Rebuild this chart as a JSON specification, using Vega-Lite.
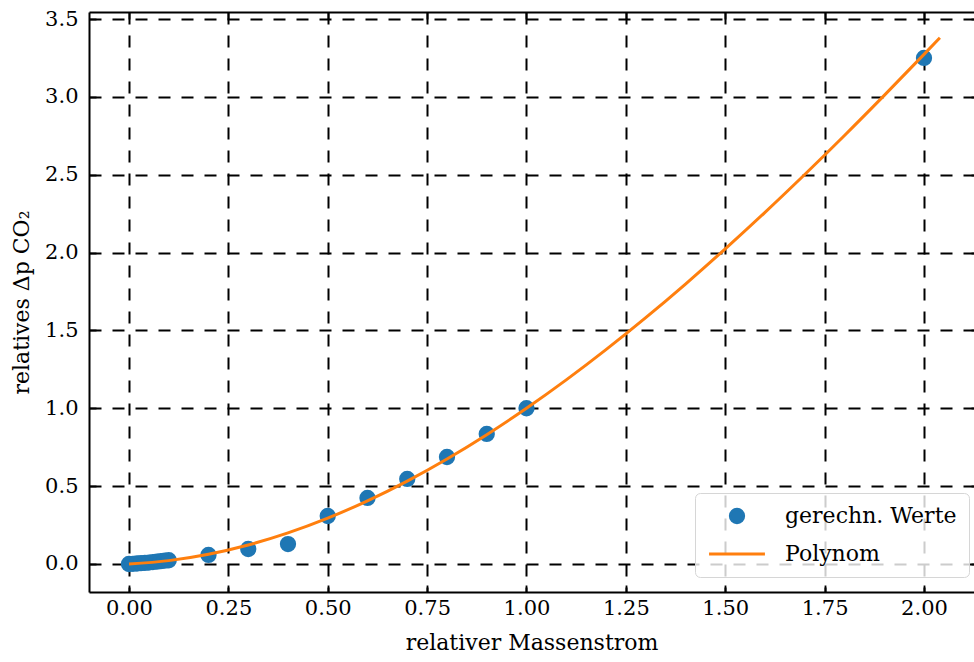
{
  "$schema": "https://vega.github.io/schema/vega-lite/v6.json",
  "width": 885,
  "height": 580,
  "autosize": {"type": "none"},
  "padding": {"left": 89, "top": 12, "right": 0, "bottom": 70},
  "background": "white",
  "config": {
    "view": {"stroke": null},
    "font": "DejaVu Serif",
    "axis": {
      "labelFont": "DejaVu Serif",
      "titleFont": "DejaVu Serif",
      "labelFontSize": 21,
      "titleFontSize": 22,
      "labelColor": "black",
      "titleColor": "black",
      "titleFontWeight": "normal",
      "domainColor": "black",
      "domainWidth": 2,
      "tickColor": "black",
      "tickWidth": 1.8,
      "tickSize": -7,
      "gridColor": "black",
      "gridWidth": 2,
      "gridOpacity": 1,
      "gridDash": [12, 11]
    },
    "legend": {
      "labelFont": "DejaVu Serif",
      "labelFontSize": 22,
      "labelColor": "black",
      "labelLimit": 0
    }
  },
  "datasets": {
    "werte": [
      {"m": 0.0, "dp": 0.0, "series": "gerechn. Werte"},
      {"m": 0.01, "dp": 0.001, "series": "gerechn. Werte"},
      {"m": 0.02, "dp": 0.003, "series": "gerechn. Werte"},
      {"m": 0.03, "dp": 0.005, "series": "gerechn. Werte"},
      {"m": 0.04, "dp": 0.007, "series": "gerechn. Werte"},
      {"m": 0.05, "dp": 0.009, "series": "gerechn. Werte"},
      {"m": 0.06, "dp": 0.012, "series": "gerechn. Werte"},
      {"m": 0.07, "dp": 0.015, "series": "gerechn. Werte"},
      {"m": 0.08, "dp": 0.018, "series": "gerechn. Werte"},
      {"m": 0.09, "dp": 0.021, "series": "gerechn. Werte"},
      {"m": 0.1, "dp": 0.024, "series": "gerechn. Werte"},
      {"m": 0.2, "dp": 0.058, "series": "gerechn. Werte"},
      {"m": 0.3, "dp": 0.096, "series": "gerechn. Werte"},
      {"m": 0.4, "dp": 0.128, "series": "gerechn. Werte"},
      {"m": 0.5, "dp": 0.308, "series": "gerechn. Werte"},
      {"m": 0.6, "dp": 0.424, "series": "gerechn. Werte"},
      {"m": 0.7, "dp": 0.546, "series": "gerechn. Werte"},
      {"m": 0.8, "dp": 0.687, "series": "gerechn. Werte"},
      {"m": 0.9, "dp": 0.835, "series": "gerechn. Werte"},
      {"m": 1.0, "dp": 1.0, "series": "gerechn. Werte"},
      {"m": 2.0, "dp": 3.25, "series": "gerechn. Werte"}
    ],
    "polynom": [
      {"m": 0.0, "dp": 0.0},
      {"m": 0.1, "dp": 0.0215},
      {"m": 0.2, "dp": 0.0625},
      {"m": 0.3, "dp": 0.1221},
      {"m": 0.4, "dp": 0.1997},
      {"m": 0.5, "dp": 0.2944},
      {"m": 0.6, "dp": 0.4056},
      {"m": 0.7, "dp": 0.5325},
      {"m": 0.8, "dp": 0.6744},
      {"m": 0.9, "dp": 0.8305},
      {"m": 1.0, "dp": 1.0},
      {"m": 1.1, "dp": 1.1823},
      {"m": 1.2, "dp": 1.3766},
      {"m": 1.3, "dp": 1.582},
      {"m": 1.4, "dp": 1.798},
      {"m": 1.5, "dp": 2.024},
      {"m": 1.6, "dp": 2.2585},
      {"m": 1.7, "dp": 2.5016},
      {"m": 1.8, "dp": 2.752},
      {"m": 1.9, "dp": 3.0094},
      {"m": 2.0, "dp": 3.2728},
      {"m": 2.04, "dp": 3.3796}
    ]
  },
  "layer": [
    {
      "data": {"name": "werte"},
      "mark": {"type": "point", "filled": true, "size": 177, "strokeWidth": 3, "opacity": 1},
      "encoding": {
        "x": {
          "field": "m", "type": "quantitative",
          "scale": {"domain": [-0.1006, 2.1258], "nice": false, "zero": false},
          "axis": {
            "orient": "bottom",
            "title": "relativer Massenstrom",
            "values": [0, 0.25, 0.5, 0.75, 1.0, 1.25, 1.5, 1.75, 2.0],
            "format": ".2f",
            "labelPadding": 12,
            "titlePadding": 14,
            "grid": true
          }
        },
        "y": {
          "field": "dp", "type": "quantitative",
          "scale": {"domain": [-0.18, 3.545], "nice": false, "zero": false},
          "axis": {
            "orient": "left",
            "title": "relatives Δp CO₂",
            "values": [0, 0.5, 1.0, 1.5, 2.0, 2.5, 3.0, 3.5],
            "format": ".1f",
            "labelPadding": 18,
            "titlePadding": 11,
            "grid": true
          }
        },
        "fill": {
          "field": "series", "type": "nominal",
          "scale": {"domain": ["gerechn. Werte", "Polynom"], "range": ["#1f77b4", "#ff7f0e"]},
          "legend": {
            "title": null,
            "orient": "none",
            "legendX": 606,
            "legendY": 481,
            "padding": 12,
            "rowPadding": 14,
            "symbolSize": 177,
            "symbolStrokeWidth": 3,
            "symbolOffset": 19,
            "labelOffset": 37,
            "fillColor": "rgba(255,255,255,0.8)",
            "strokeColor": "#d6d6d6",
            "cornerRadius": 5
          }
        },
        "stroke": {
          "field": "series", "type": "nominal",
          "scale": {"domain": ["gerechn. Werte", "Polynom"], "range": ["#1f77b4", "#ff7f0e"]},
          "legend": {
            "title": null,
            "orient": "none",
            "legendX": 606,
            "legendY": 481,
            "padding": 12,
            "rowPadding": 14,
            "symbolSize": 177,
            "symbolStrokeWidth": 3,
            "symbolOffset": 19,
            "labelOffset": 37,
            "fillColor": "rgba(255,255,255,0.8)",
            "strokeColor": "#d6d6d6",
            "cornerRadius": 5
          }
        },
        "shape": {
          "field": "series", "type": "nominal",
          "scale": {"domain": ["gerechn. Werte", "Polynom"], "range": ["circle", "M-4.2,0H4.2"]},
          "legend": {
            "title": null,
            "orient": "none",
            "legendX": 606,
            "legendY": 481,
            "padding": 12,
            "rowPadding": 14,
            "symbolSize": 177,
            "symbolStrokeWidth": 3,
            "symbolOffset": 19,
            "labelOffset": 37,
            "fillColor": "rgba(255,255,255,0.8)",
            "strokeColor": "#d6d6d6",
            "cornerRadius": 5
          }
        }
      }
    },
    {
      "data": {"name": "polynom"},
      "mark": {"type": "line", "strokeWidth": 3, "interpolate": "monotone", "color": "#ff7f0e"},
      "encoding": {
        "x": {
          "field": "m", "type": "quantitative",
          "axis": {
            "orient": "top",
            "title": null,
            "labels": false,
            "grid": false,
            "values": [0, 0.25, 0.5, 0.75, 1.0, 1.25, 1.5, 1.75, 2.0]
          }
        },
        "y": {
          "field": "dp", "type": "quantitative",
          "axis": {
            "orient": "right",
            "title": null,
            "labels": false,
            "grid": false,
            "domain": false,
            "tickSize": -3,
            "values": [0, 0.5, 1.0, 1.5, 2.0, 2.5, 3.0, 3.5]
          }
        }
      }
    }
  ],
  "resolve": {"axis": {"x": "independent", "y": "independent"}}
}
